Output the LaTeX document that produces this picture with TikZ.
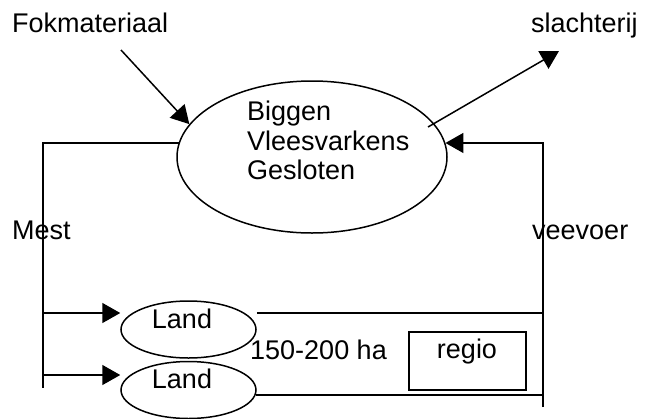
\documentclass[tikz,border=0pt]{standalone}
\usepackage{fontspec}
\setmainfont{Liberation Sans}
\usetikzlibrary{arrows.meta,shapes.geometric}
\begin{document}
\begin{tikzpicture}[x=1pt,y=-1pt,
    every node/.style={inner sep=0pt, font=\fontsize{27}{29.5}\selectfont},
    line/.style={line width=1.5pt},
    arr/.style={line width=1.5pt, -{Triangle[length=18pt,width=20pt]}},
    bigell/.style={ellipse, draw, line width=1.5pt, minimum width=270pt, minimum height=152pt},
    landell/.style={ellipse, draw, line width=1.5pt, minimum width=135pt, minimum height=57pt},
    regiobox/.style={rectangle, draw, line width=1.5pt, minimum width=117pt, minimum height=58pt}]
  \useasboundingbox (0,0) rectangle (645,418);

  \node[bigell] (pigs) at (312,157) {};
  \node[anchor=north west, align=left] (pigstext) at (247,101) {Biggen\\Vleesvarkens\\Gesloten};
  \node[anchor=base west] (fok) at (12,32) {Fokmateriaal};
  \node[anchor=base west] (slacht) at (531,32) {slachterij};
  \node[anchor=base west] (mest) at (12,239) {Mest};
  \node[anchor=base west] (veevoer) at (532,239) {veevoer};
  \node[landell] (land1) at (188.5,329.5) {};
  \node[anchor=base] (land1text) at (182,328) {Land};
  \node[landell] (land2) at (188.5,390) {};
  \node[anchor=base] (land2text) at (182,388) {Land};
  \node[anchor=base west] (opp) at (250,359) {150-200 ha};
  \node[regiobox] (regio) at (467.5,361) {};
  \node[anchor=base] (regiotext) at (467,358) {regio};

  % loose ends
  \coordinate (fokstart) at (121,50);
  \coordinate (slachtstart) at (428,127);
  \coordinate (slachtend) at (559,51);
  \coordinate (mestend) at (43,388);
  \coordinate (mest1) at (43,313);
  \coordinate (mest2) at (43,375);
  \coordinate (voerend) at (543,407);
  \coordinate (bottomline) at (256,395);

  \draw[arr] (fokstart) -- (pigs.165);
  \draw[arr] (slachtstart) -- (slachtend);
  \draw[line] (pigs.174) -| (mestend);
  \draw[arr] (voerend) |- (pigs.6);
  \draw[arr] (mest1) -- (mest1 -| land1.west);
  \draw[arr] (mest2) -- (mest2 -| land2.west);
  \draw[line] (mest1 -| land1.east) -- (mest1 -| voerend);
  \draw[line] (bottomline) -- (bottomline -| voerend);
\end{tikzpicture}
\end{document}
